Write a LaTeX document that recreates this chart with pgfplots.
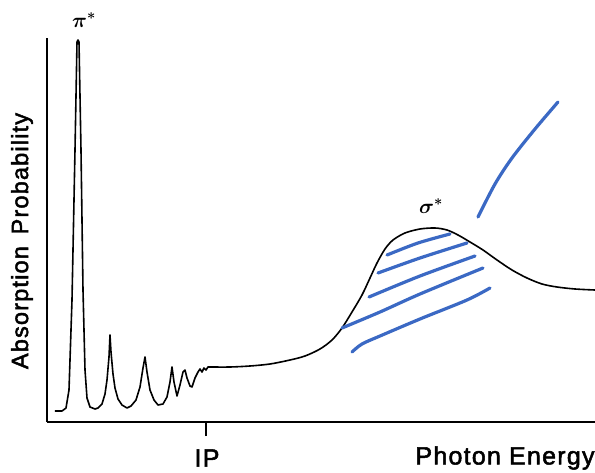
\documentclass[border=0pt]{standalone}
\usepackage{pgfplots}
\pgfplotsset{compat=1.18}
\usepackage{bm}
\usepackage{fontspec}
\setmainfont{Liberation Sans}
\newfontfamily\lab[LetterSpace=5,FakeBold=2]{Liberation Sans}
\definecolor{pen}{RGB}{59,105,196}
\begin{document}
\begin{tikzpicture}
\useasboundingbox (-47pt,-50pt) rectangle (548pt,422pt);
\begin{axis}[
  at={(0pt,0pt)}, anchor=south west,
  scale only axis, width=548pt, height=384pt,
  xmin=47, xmax=595, ymin=50, ymax=434,
  axis lines=left, axis line style={-, line width=2.6pt},
  xtick={206}, xticklabels={}, ytick=\empty,
  tick align=outside, major tick length=14pt,
  tick style={line width=1.5pt, black},
  clip=false,
]
% sharp resonances below IP
\addplot[black, line width=1.6pt, line join=round] coordinates {
(55,61)(62,61)(66,64)(69,82)(72,172)(75,322)(77,430)(78,432)(79,430)(81,322)(83,182)(85,102)(87,74)(90,65)(95,63)
(98,64)(102,68)(105,78)(107,92)(109,115)(110,137)(111,120)(113,98)(115,84)(118,73)(122,67)(127,64)
(131,66)(136,72)(140,85)(143,104)(145,115)(147,100)(150,82)(154,72)(158,67)(163,68)(167,75)(170,90)(172,105)
(174,90)(177,76)(180,87)(183,100)(185,102)(187,94)(190,86)(192,85)(195,94)(198,100)(200,103)(202,100)(204,104)(206,102)(208,105)(212,105)
};
% continuum and sigma* shape resonance
\addplot[black, line width=1.6pt, smooth] coordinates {
(212,105)(230,105)(250,106)(270,108)(290,112)(305,116)(320,123)(332,132)(342,144)(352,160)(362,177)(370,194)(377,209)(385,223)(393,232)(405,239)(420,243)(435,244)(447,242)(458,237)(470,230)(483,222)(497,212)(512,202)(527,194)(542,188)(557,185)(575,183)(595,182)
};
% hand-drawn blue strokes
\addplot[pen, line width=3.2pt, line cap=round, smooth] coordinates {(387,217)(418,229)(450,238)};
\addplot[pen, line width=3.2pt, line cap=round, smooth] coordinates {(378,199)(420,214)(467,229)};
\addplot[pen, line width=3.2pt, line cap=round, smooth] coordinates {(369,175)(420,196)(475,216)};
\addplot[pen, line width=3.2pt, line cap=round, smooth] coordinates {(342,144)(380,160)(420,178)(483,204)};
\addplot[pen, line width=3.2pt, line cap=round, smooth] coordinates {(352,120)(362,128)(380,136)(420,153)(467,172)(490,184)};
\addplot[pen, line width=3.2pt, line cap=round, smooth] coordinates {(478,255)(495,288)(512,314)(535,343)(558,370)};
% labels
\node[font=\lab\fontsize{25}{25}\selectfont] at (axis cs:505,14) {Photon Energy};
\node[font=\lab\fontsize{25}{25}\selectfont] at (axis cs:207,14) {IP};
\node[rotate=90, font=\lab\fontsize{23.5}{23.5}\selectfont] at (axis cs:22,231) {Absorption\hspace{0.5em}Probability};
\node at (axis cs:84,452) {\fontsize{22}{22}\selectfont$\bm{\pi}^{\bm{*}}$};
\node at (axis cs:431,266) {\fontsize{22}{22}\selectfont$\bm{\sigma}^{\bm{*}}$};
\end{axis}
\end{tikzpicture}
\end{document}
